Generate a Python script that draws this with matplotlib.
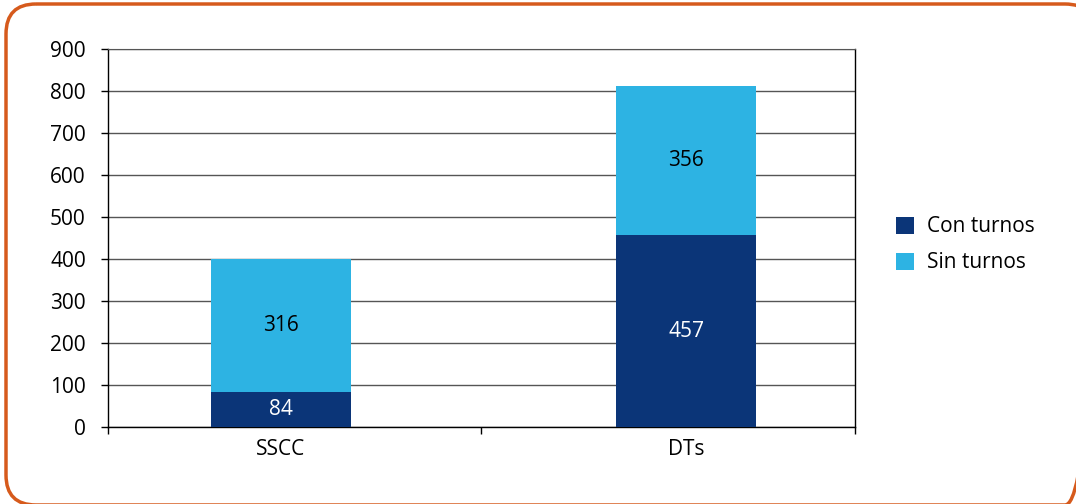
import matplotlib.pyplot as plt
from matplotlib.patches import FancyBboxPatch

plt.rcParams['font.family'] = ['Open Sans', 'DejaVu Sans']

categories = ['SSCC', 'DTs']
con_turnos = [84, 457]
sin_turnos = [316, 356]
series_names = ['Con turnos', 'Sin turnos']
y_ticks = [0, 100, 200, 300, 400, 500, 600, 700, 800, 900]

dark = '#0B3578'
light = '#2DB3E3'
fs = 15

fig = plt.figure(figsize=(10.76, 5.04), dpi=100)

# background axes in pixel units, only used for the rounded orange frame
bg = fig.add_axes([0, 0, 1, 1], zorder=-1)
bg.set_xlim(0, 1076)
bg.set_ylim(504, 0)
bg.axis('off')
bg.add_patch(FancyBboxPatch((6, 4), 1089, 501, boxstyle='round,pad=0,rounding_size=30',
                            facecolor='none', edgecolor='#D65A1C', linewidth=2.5))

ax = fig.add_axes([0.1004, 0.1528, 0.6942, 0.75])

x = list(range(len(categories)))
b1 = ax.bar(x, con_turnos, width=0.346, color=dark, label=series_names[0], zorder=3)
b2 = ax.bar(x, sin_turnos, width=0.346, bottom=con_turnos, color=light,
            label=series_names[1], zorder=3)

# value labels in the middle of each segment
for i in x:
    ax.text(i, con_turnos[i] / 2, str(con_turnos[i]), ha='center', va='center',
            color='white', fontsize=fs, zorder=4)
    ax.text(i, con_turnos[i] + sin_turnos[i] / 2, str(sin_turnos[i]), ha='center',
            va='center', color='black', fontsize=fs, zorder=4)

ax.set_xlim(-0.427, 1.417)
ax.set_ylim(0, 900)
ax.set_yticks(y_ticks)
ax.tick_params(axis='y', labelsize=fs, length=5, width=1, pad=11)
ax.set_xticks(x)
ax.set_xticklabels(categories, fontsize=fs)
ax.tick_params(axis='x', which='major', length=0, pad=9)
ax.set_xticks([-0.427, 0.494, 1.417], minor=True)
ax.tick_params(axis='x', which='minor', length=5, width=1, direction='out')

ax.grid(axis='y', color='#555555', linewidth=1, zorder=0)
for s in ['left', 'bottom', 'right']:
    ax.spines[s].set_color('black')
    ax.spines[s].set_linewidth(1)
ax.spines['top'].set_color('#555555')

fig.legend(handles=[b1, b2], labels=series_names, loc='center left',
           bbox_to_anchor=(0.815, 0.514), frameon=False, fontsize=fs,
           handlelength=0.9, handleheight=0.9, handletextpad=0.6, labelspacing=0.72)

fig.savefig('out.png', dpi=100)
